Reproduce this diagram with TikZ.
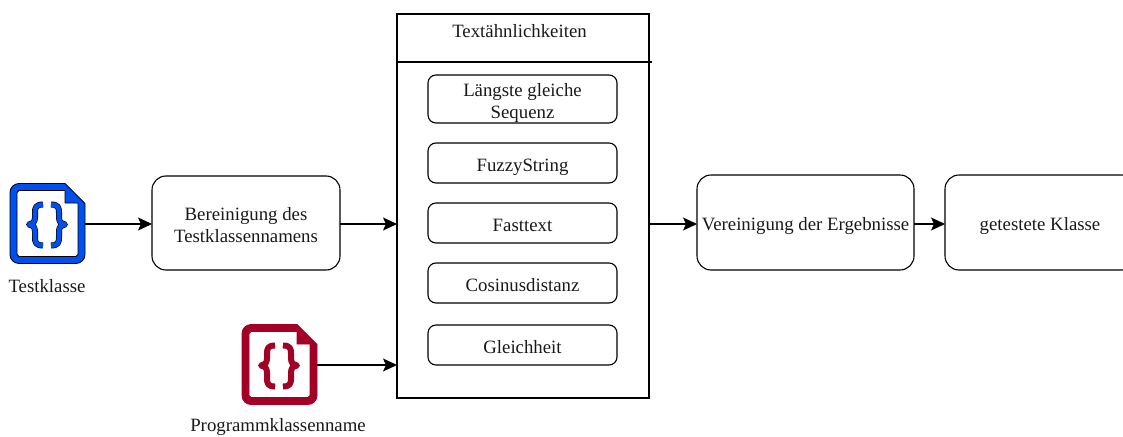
\documentclass[tikz,border=0pt]{standalone}
\usepackage{fontspec}
\setmainfont{Liberation Serif}
\usetikzlibrary{arrows.meta}
\definecolor{iconblue}{HTML}{0050EF}
\definecolor{iconred}{HTML}{A20025}
\tikzset{
  x=1pt,y=-1pt,
  every node/.style={font=\fontsize{18.8}{22}\selectfont,text=black!90,inner sep=0pt,outer sep=0pt,align=center},
  rbox/.style={draw=black,line width=1.1pt,rounded corners=#1,minimum width=0pt},
  rbox/.default=8pt,
  conn/.style={draw=black,line width=1.1pt,-{Stealth[length=14pt,width=13pt,inset=3pt]}},
  plain/.style={draw=black,line width=1.1pt},
  iconbox/.style={minimum width=75pt,minimum height=80pt,draw=none},
}
% box from corners: #1 name, #2 left, #3 top, #4 right, #5 bottom, #6 options, #7 text
\newcommand{\boxat}[7]{%
  \pgfmathsetmacro{\bw}{#4-#2}\pgfmathsetmacro{\bh}{#5-#3}%
  \pgfmathsetmacro{\bx}{(#2+#4)/2}\pgfmathsetmacro{\by}{(#3+#5)/2}%
  \node[#6,minimum width=\bw pt,minimum height=\bh pt] (#1) at (\bx,\by) {\raisebox{-8pt}[0pt][0pt]{\begin{tabular}{@{}c@{}}#7\end{tabular}}};}
% file icon: shifted so that origin is its top-left corner
\newcommand{\fileicon}[4]{% x, y, fill colour, outline colour
  \begin{scope}[shift={(#1,#2)}]
    \draw[fill=#3,draw=#4,line width=.8pt,even odd rule,line join=round]
      (9,0) -- (55,0) -- (75,20) -- (75,71) arc[start angle=0,end angle=90,radius=9] -- (9,80)
      arc[start angle=90,end angle=180,radius=9] -- (0,9) arc[start angle=180,end angle=270,radius=9]
      -- cycle
      (9,7) -- (55,7) -- (55,19.5) -- (68,19.5) -- (68,71) -- (66,73) -- (9,73) -- (7,71) -- (7,9) -- cycle;
    \foreach \w/\c in {6/#4,4.6/#3}{
      \draw[draw=\c,line width=\w pt,line cap=butt,line join=round]
        (33,21) .. controls (26,21) and (25,24) .. (25,29) -- (25,34)
        .. controls (25,39) and (22,41) .. (19,41) .. controls (22,41) and (25,43) .. (25,48)
        -- (25,54) .. controls (25,59) and (26,62) .. (33,62);
      \draw[draw=\c,line width=\w pt,line cap=butt,line join=round]
        (41,21) .. controls (48,21) and (49,24) .. (49,29) -- (49,34)
        .. controls (49,39) and (52,41) .. (55,41) .. controls (52,41) and (49,43) .. (49,48)
        -- (49,54) .. controls (49,59) and (48,62) .. (41,62);
    }
  \end{scope}}
\begin{document}
\begin{tikzpicture}
\useasboundingbox (0,0) rectangle (1123,436);

% icons
\fileicon{10}{183.5}{iconblue}{black}
\fileicon{242}{324.5}{iconred}{iconred}
\node[iconbox] (test) at (47.5,224) {};
\node[iconbox] (prog) at (279.5,365) {};
\node (testlabel) at (47,286) {Testklasse};
\node (proglabel) at (278,427) {Programmklassenname};

% main boxes
\boxat{clean}{152}{176}{340}{270}{rbox=14pt}{Bereinigung des\\Testklassennamens}
\boxat{group}{397}{14}{649}{398}{plain}{}
\coordinate (hl) at (397,62);
\coordinate (hr) at (652,62);
\draw[plain] (hl) -- (hr);
\node (title) at (519.5,31) {Textähnlichkeiten};

\boxat{s1}{428}{75}{617}{123}{rbox=8pt}{Längste gleiche\\Sequenz}
\boxat{s2}{428}{143}{617}{183}{rbox=8pt}{FuzzyString}
\boxat{s3}{428}{203}{617}{243}{rbox=8pt}{Fasttext}
\boxat{s4}{428}{263}{617}{303}{rbox=8pt}{Cosinusdistanz}
\boxat{s5}{428}{325}{617}{365}{rbox=8pt}{Gleichheit}

\boxat{merge}{697}{175}{914}{270}{rbox=14pt}{Vereinigung der Ergebnisse}
\boxat{result}{945}{175}{1136}{270}{rbox=14pt}{}
\node (resulttext) at (1040,226) {getestete Klasse};

% connectors
\coordinate (groupA) at (397,224);
\coordinate (groupB) at (397,365);
\coordinate (groupC) at (649,224);
\draw[conn] (test.east |- 0,224) -- (clean.west |- 0,224);
\draw[conn] (clean.east |- 0,224) -- (groupA);
\draw[conn] (prog.east |- 0,365) -- (groupB);
\draw[conn] (groupC) -- (merge.west |- 0,224);
\draw[conn] (merge.east |- 0,224) -- (result.west |- 0,224);
\end{tikzpicture}
\end{document}
